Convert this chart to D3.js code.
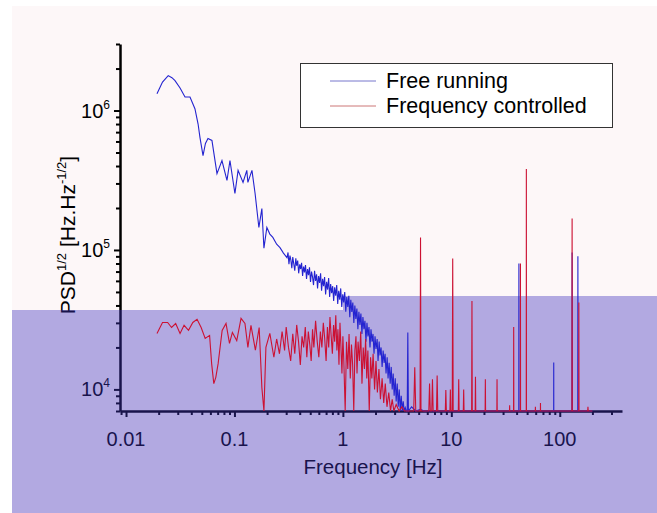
<!DOCTYPE html>
<html><head><meta charset="utf-8">
<script src="https://cdn.jsdelivr.net/npm/d3@7"></script>
<style>body{margin:0;background:#fff}svg{display:block}text{font-family:"Liberation Sans",Arial,sans-serif}</style>
</head><body><svg id="c" width="657" height="513"></svg>
<script>
// ---- data ----
const seriesNames = ["Free running", "Frequency controlled"];
const xTickValues = [0.01, 0.1, 1, 10, 100];
const xTickLabels = ["0.01", "0.1", "1", "10", "100"];
const yTickExponents = [4, 5, 6];

const freeFreq = [0.0193,0.0217,0.0245,0.0265,0.0283,0.0315,0.035,0.0389,0.0432,0.0462,0.0481,0.0513,0.054,0.057,0.062,0.069,0.0767,0.0853,0.0909,0.101,0.108,0.12,0.13,0.133,0.145,0.155,0.168,0.179,0.187,0.199,0.212,0.226,0.245,0.263,0.283,0.305,
0.312,0.318,0.325,0.331,0.338,0.345,0.352,0.36,0.368,0.375,0.383,0.391,0.40,0.408,0.416,0.425,0.434,0.443,0.452,0.462,0.472,0.482,0.492,0.503,0.514,0.525,0.536,0.548,0.56,0.572,0.584,0.597,0.61,0.623,0.636,0.65,0.664,0.678,0.693,0.708,0.723,0.739,0.755,0.771,0.788,0.805,0.822,0.84,0.858,0.877,0.896,0.915,0.935,0.955,0.976,0.997,
1.018,1.04,1.063,1.086,1.11,1.134,1.158,1.183,1.209,1.235,1.262,1.289,1.317,1.346,1.375,1.405,1.435,1.466,1.498,1.53,1.563,1.597,1.632,1.667,1.703,1.74,1.778,1.816,1.856,1.896,1.937,1.979,2.02,2.07,2.11,2.16,2.2,2.25,2.3,2.35,2.4,2.45,2.5,2.56,2.61,2.67,2.73,2.79,2.85,2.91,2.97,3.04,3.1,3.17,3.24,3.31,3.38,3.45,3.53,3.6,3.68,3.76,3.84,
3.92,3.97,4.02,4.3,4.7,5.2,5.6,41.9,42,42.1,87.9,88,88.1,129.5,130,130.5,146.5,147,147.5,200];
const freeVal = [1.32e6,1.6e6,1.78e6,1.72e6,1.64e6,1.45e6,1.25e6,1.25e6,1.03e6,8.0e5,6.4e5,4.75e5,5.8e5,6.3e5,6.1e5,3.53e5,4.38e5,3.15e5,4.38e5,2.54e5,3.72e5,3.05e5,3.72e5,3.05e5,3.72e5,2.54e5,1.45e5,1.98e5,1.03e5,1.45e5,1.3e5,1.23e5,1.1e5,1.04e5,9.5e4,8.8e4,
9.6e4,7.9e4,9.1e4,8.5e4,7.4e4,8.9e4,8.0e4,7.1e4,8.7e4,7.7e4,8.4e4,6.8e4,7.9e4,7.3e4,8.1e4,6.5e4,7.6e4,6.9e4,7.8e4,6.2e4,7.3e4,6.6e4,7.5e4,5.9e4,7.0e4,6.4e4,5.6e4,7.1e4,6.0e4,6.7e4,5.3e4,6.5e4,5.8e4,6.8e4,5.1e4,6.2e4,5.5e4,6.4e4,4.8e4,5.9e4,5.2e4,6.3e4,4.6e4,5.7e4,4.9e4,5.5e4,4.3e4,5.4e4,4.7e4,5.6e4,4.1e4,5.1e4,4.4e4,5.3e4,3.9e4,4.8e4,
4.2e4,5.0e4,3.6e4,4.6e4,3.9e4,4.7e4,3.3e4,4.4e4,3.6e4,4.2e4,3.0e4,4.0e4,3.2e4,3.8e4,2.7e4,3.6e4,2.9e4,3.5e4,2.5e4,3.3e4,2.7e4,3.1e4,2.2e4,3.0e4,2.4e4,2.8e4,2.0e4,2.7e4,2.2e4,2.5e4,1.8e4,2.4e4,1.95e4,2.3e4,1.6e4,2.2e4,1.75e4,2.0e4,1.45e4,1.9e4,1.55e4,1.8e4,1.3e4,1.7e4,1.2e4,1.55e4,1.1e4,1.45e4,1.0e4,1.3e4,9.0e3,1.2e4,8.2e3,1.1e4,7.5e3,1.0e4,7.0e3,9.0e3,6.5e3,8.2e3,6.0e3,7.4e3,6.0e3,
6e3,2.56e4,6e3,7.5e3,6e3,7.2e3,6e3,6e3,8e4,6e3,6e3,1.56e4,6e3,6e3,9.6e4,6e3,6e3,9e4,6e3,6e3];

const ctrlFreq = [0.0193,0.0217,0.0242,0.0263,0.0287,0.0315,0.0343,0.0377,0.0413,0.0452,0.0493,0.0537,0.059,0.0616,0.0645,0.0673,0.0707,0.077,0.0836,0.09,0.0957,0.105,0.115,0.125,0.133,0.142,0.156,0.169,0.179,0.187,0.195,0.212,0.231,
0.245,0.26,0.275,0.29,0.30,0.315,0.33,0.345,0.36,0.375,0.39,0.405,0.42,0.435,0.45,0.465,0.48,0.495,0.51,0.525,0.54,0.56,0.58,0.60,0.62,0.64,0.66,0.68,0.70,0.72,0.74,0.76,0.78,0.80,0.82,0.84,0.86,0.88,0.90,0.92,0.94,0.96,0.98,1.0,
1.02,1.05,1.08,1.11,1.14,1.17,1.20,1.23,1.26,1.29,1.32,1.35,1.38,1.42,1.46,1.50,1.54,1.58,1.62,1.66,1.70,1.75,1.80,1.85,1.90,1.96,2.02,2.08,2.15,2.22,2.30,2.38,2.46,2.55,2.65,2.75,2.85,2.95,
3.1,3.3,3.5,3.7,4.0,4.5,4.6,4.7,5.15,5.2,5.25,6.2,6.3,6.4,6.6,6.7,6.8,7.3,7.4,7.5,8.8,8.9,9.0,9.7,9.8,9.9,10.2,10.3,10.4,11.6,11.7,11.8,12.9,13,13.1,15.4,15.5,15.6,16.6,16.7,16.8,20.5,20.6,20.7,26.3,26.4,26.5,34.4,34.5,34.6,37.5,37.6,37.7,43.3,43.4,43.5,49.1,49.2,49.3,59.5,59.6,59.7,66.3,66.4,66.5,129.5,130,130.5,149.5,150,150.5,181,182,183,200];
const ctrlVal = [2.52e4,3.02e4,3.02e4,2.78e4,2.97e4,2.52e4,2.88e4,2.65e4,3.02e4,3.18e4,2.78e4,2.32e4,2.44e4,1.53e4,1.10e4,1.22e4,1.53e4,2.65e4,2.97e4,2.14e4,2.56e4,2.24e4,3.23e4,2.97e4,2.0e4,2.88e4,1.91e4,2.78e4,1.03e4,6e3,2.0e4,2.52e4,1.70e4,
2.3e4,1.8e4,2.6e4,1.9e4,2.8e4,2.0e4,1.6e4,2.5e4,1.8e4,2.9e4,2.2e4,1.5e4,2.4e4,2.0e4,2.8e4,1.7e4,2.6e4,2.1e4,1.6e4,2.7e4,2.0e4,3.1e4,2.2e4,1.7e4,2.6e4,2.0e4,3.0e4,2.3e4,1.6e4,2.8e4,2.0e4,3.3e4,2.4e4,1.8e4,2.9e4,2.2e4,3.4e4,1.9e4,2.7e4,1.5e4,3.0e4,2.0e4,1.3e4,2.4e4,
1.6e4,6e3,2.2e4,1.4e4,2.5e4,1.2e4,2.1e4,1.5e4,6e3,1.9e4,2.4e4,1.3e4,2.2e4,1.6e4,2.6e4,1.1e4,2.0e4,1.4e4,2.3e4,1.2e4,1.9e4,6e3,1.7e4,1.2e4,1.8e4,1.0e4,1.6e4,9.5e3,1.4e4,8.5e3,1.2e4,8e3,1.1e4,7.5e3,9.5e3,6e3,8.5e3,6e3,
7.8e3,6e3,7.5e3,6e3,6.5e3,6e3,1.44e4,6e3,6e3,1.23e5,6e3,6e3,1.1e4,6e3,6e3,1.18e4,6e3,6e3,1.26e4,6e3,6e3,9.9e3,6e3,6e3,1.0e4,6e3,6e3,8.7e4,6e3,6e3,1.18e4,6e3,6e3,1.0e4,6e3,6e3,4.3e4,6e3,6e3,1.23e4,6e3,6e3,1.18e4,6e3,6e3,1.18e4,6e3,6e3,7.7e3,6e3,6e3,2.8e4,6e3,6e3,8e4,6e3,6e3,3.8e5,6e3,6e3,7.5e3,6e3,6e3,8e3,6e3,6e3,1.68e5,6e3,6e3,4.2e4,6e3,6e3,7.5e3,6e3,6e3];

// ---- chart ----
const svg = d3.select('#c');
svg.append('rect').attr('x',12).attr('y',6).attr('width',645).attr('height',507).attr('fill','#fdf7f8');

const x = d3.scaleLog().domain([0.0088,375]).range([120,622]);
const y = d3.scaleLog().domain([7000,3e6]).range([411,44]).clamp(true);

const yMajor = yTickExponents.map(e => Math.pow(10,e));
const yMinor = [];
[3,4,5,6].forEach(e => { for (let m=2;m<=9;m++){ const v=m*Math.pow(10,e); if (v>=7000 && v<=3e6) yMinor.push(v);} });
const xMinor = [];
[-3,-2,-1,0,1,2].forEach(e => { for (let m=2;m<=9;m++){ const v=m*Math.pow(10,e); if (v>=0.0088 && v<=375) xMinor.push(v);} });

const gy = svg.append('g').attr('transform','translate(120,0)');
gy.call(d3.axisLeft(y).tickValues(yMajor).tickSize(6).tickSizeOuter(0).tickFormat(''));
gy.append('g').call(d3.axisLeft(y).tickValues(yMinor).tickSize(4).tickSizeOuter(0).tickFormat('')).select('.domain').remove();
const gx = svg.append('g').attr('transform','translate(0,411)');
gx.call(d3.axisBottom(x).tickValues(xTickValues).tickSize(6).tickSizeOuter(0).tickFormat(''));
gx.append('g').call(d3.axisBottom(x).tickValues(xMinor).tickSize(4).tickSizeOuter(0).tickFormat('')).select('.domain').remove();
svg.selectAll('.domain').attr('stroke','#000').attr('stroke-width',2.5);
svg.selectAll('.tick line').attr('stroke','#000').attr('stroke-width',2);

// y tick labels
yTickExponents.forEach(e => {
  const t = svg.append('text').attr('x',110).attr('y',y(Math.pow(10,e))+7).attr('text-anchor','end').attr('font-size',20).attr('fill','#000');
  t.append('tspan').text('10');
  t.append('tspan').attr('font-size',12).attr('dy',-9).text(String(e));
});
// x tick labels
xTickValues.forEach((v,i) => {
  svg.append('text').attr('x',x(v)).attr('y',446).attr('text-anchor','middle').attr('font-size',20).attr('fill','#000').text(xTickLabels[i]);
});
svg.append('text').attr('x',373).attr('y',474).attr('text-anchor','middle').attr('font-size',20.5).attr('fill','#000').text('Frequency [Hz]');
const yl = svg.append('text').attr('transform','translate(75,235) rotate(-90)').attr('text-anchor','middle').attr('font-size',21).attr('fill','#000');
yl.append('tspan').text('PSD');
yl.append('tspan').attr('font-size',13).attr('dy',-9).text('1/2');
yl.append('tspan').attr('dy',9).text(' [Hz.Hz');
yl.append('tspan').attr('font-size',13).attr('dy',-9).text('-1/2');
yl.append('tspan').attr('dy',9).text(']');

// purple overlay band
svg.append('path').attr('d','M12,310H343V296H657V513H12Z').attr('fill','rgb(63,51,190)').attr('opacity',0.395);

// lines
const line = d3.line().x(d=>x(d[0])).y(d=>y(d[1]));
const freeData = freeFreq.map((f,i)=>[f,freeVal[i]]);
const ctrlData = ctrlFreq.map((f,i)=>[f,ctrlVal[i]]);
svg.append('path').datum(freeData).attr('d',line).attr('fill','none').attr('stroke','#2424d0').attr('stroke-width',1.1);
svg.append('path').datum(ctrlData).attr('d',line).attr('fill','none').attr('stroke','#cc1133').attr('stroke-width',1.1);

// legend
svg.append('rect').attr('x',300.5).attr('y',63.5).attr('width',312).attr('height',64).attr('fill','#fff').attr('stroke','#333').attr('stroke-width',1);
const legColors = ['#7777cc','#cc7777'];
seriesNames.forEach((n,i) => {
  const ly = 81 + i*25;
  svg.append('line').attr('x1',330).attr('x2',376).attr('y1',ly).attr('y2',ly).attr('stroke',legColors[i]).attr('stroke-width',1);
  svg.append('text').attr('x',386).attr('y',ly+7).attr('font-size',21.5).attr('fill','#000').text(n);
});
</script></body></html>
